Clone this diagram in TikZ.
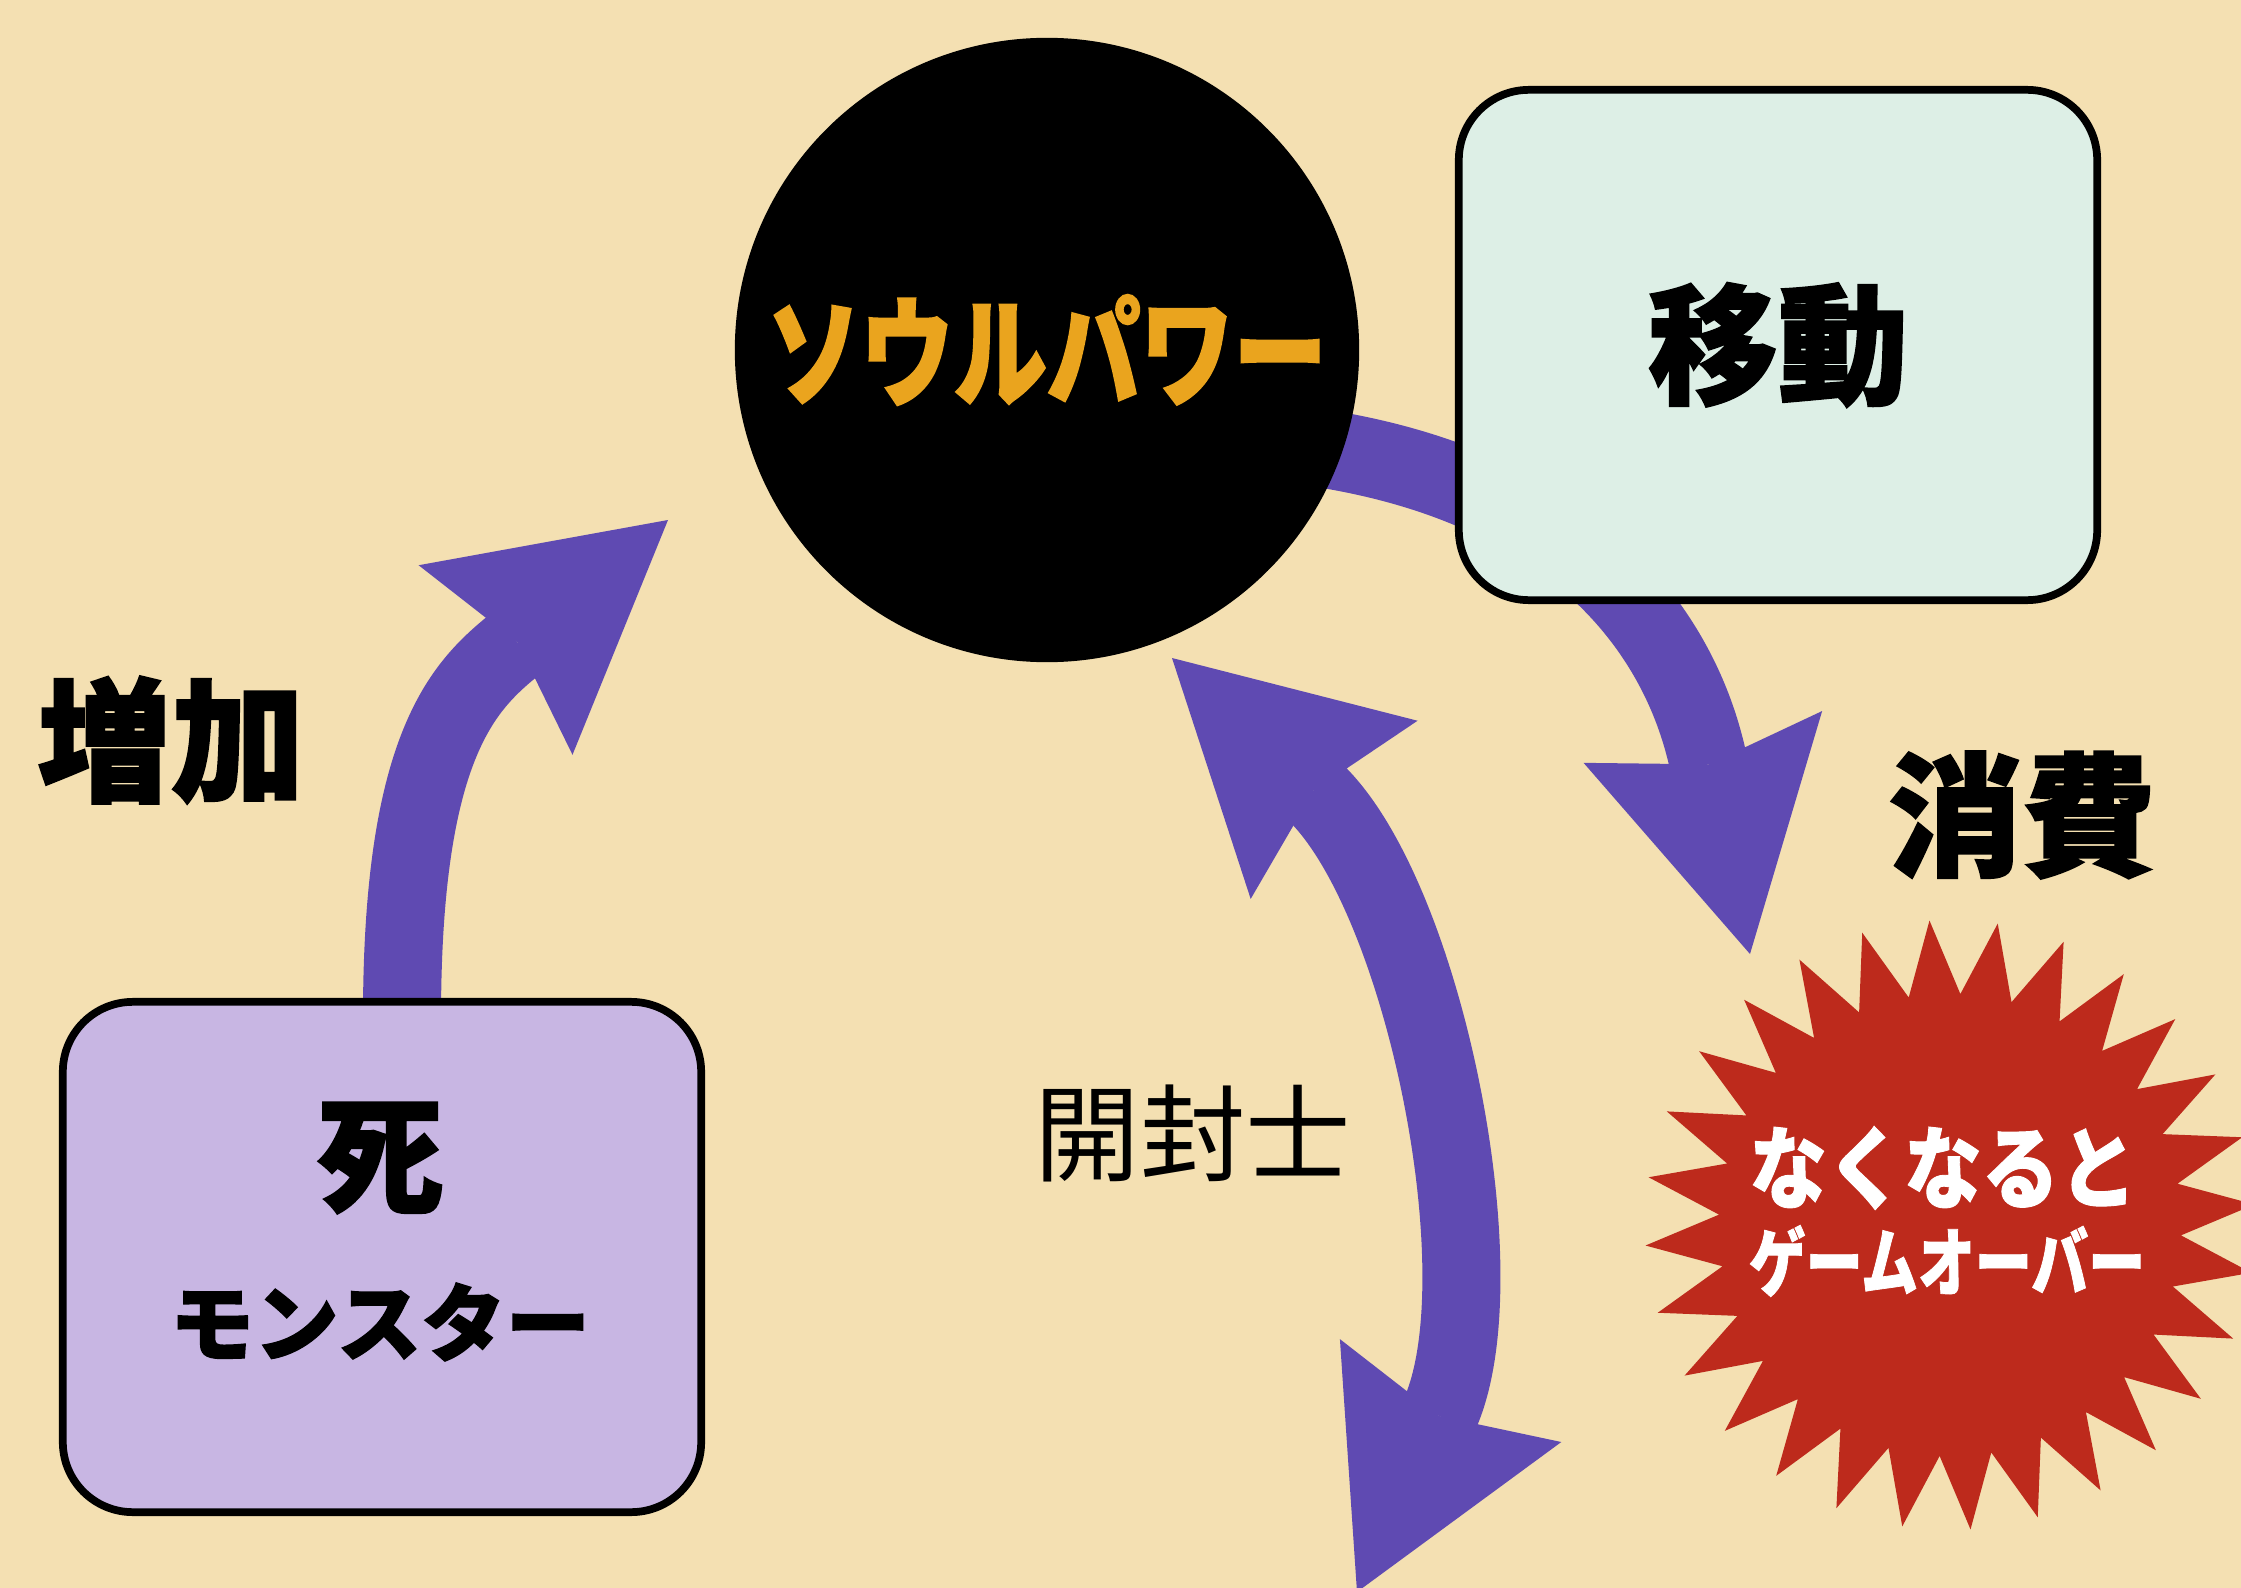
\documentclass[tikz,border=0pt]{standalone}
\usepackage{fontspec}
\usepackage{tikz}
\usetikzlibrary{arrows.meta,shapes.geometric,calc}
\newfontfamily\jp[BoldFeatures={FakeBold=1.6}]{Noto Sans CJK JP}
\newfontfamily\jpnarrow[FakeStretch=0.78,BoldFeatures={FakeBold=1.6}]{Noto Sans CJK JP}
\newfontfamily\jpnarrower[FakeStretch=0.76,BoldFeatures={FakeBold=1}]{Noto Sans CJK JP}
\newfontfamily\jpwide[FakeStretch=0.86,BoldFeatures={FakeBold=1}]{Noto Sans CJK JP}
\definecolor{paper}{HTML}{F4E0B2}
\definecolor{flow}{HTML}{5F4AB2}
\definecolor{lilac}{HTML}{C8B6E3}
\definecolor{mint}{HTML}{DDEFE6}
\definecolor{alarm}{HTML}{BD2A1C}
\definecolor{gold}{HTML}{EAA41E}
\pgfdeclarelayer{back}
\pgfsetlayers{back,main}
\tikzstyle{fat} = [line width=0.78cm,draw=flow,>={Stealth[length=2.22cm,width=2.44cm,inset=0.28cm,line width=0pt]}]
\tikzstyle{box} = [draw,rounded corners=0.7cm,line width=2.2pt,minimum width=6.38cm,minimum height=5.1cm]
\tikzstyle{word} = [inner sep=0pt,font=\jp\bfseries\fontsize{38pt}{40pt}\selectfont]

\begin{document}
\begin{tikzpicture}[x=0.01cm,y=-0.01cm]
        \useasboundingbox (0,0) rectangle (2241,1588);
        \node[circle, fill=black, minimum size=6.24cm, inner sep=0pt, text=gold,
              font=\jpnarrow\bfseries\fontsize{34pt}{36pt}\selectfont] at (1047,350) (soul) {ソウルパワー};
        \node[box, fill=mint, font=\jp\bfseries\fontsize{37pt}{39pt}\selectfont] at (1778,345) (move) {移動};
        \node[box, fill=lilac] at (382,1257) (death) {};
        \node[word, font=\jp\bfseries\fontsize{36pt}{38pt}\selectfont] at (380,1158) (deathword) {死};
        \node[word, font=\jp\bfseries\fontsize{24pt}{26pt}\selectfont] at (380,1322) (monster) {モンスター};
        \node[star, star points=28, star point ratio=1.32, shape border rotate=-9,
              fill=alarm, minimum size=6.1cm, inner sep=0pt] at (1950,1225) (over) {};
        \node[word, text=white, font=\jpwide\bfseries\fontsize{25.6pt}{27pt}\selectfont] at (1943,1168) (lose) {なくなると};
        \node[word, text=white, font=\jpnarrower\bfseries\fontsize{21.3pt}{23pt}\selectfont] at (1947,1261) (gameover) {ゲームオーバー};
        \node[word] at (171,740) (gain) {増加};
        \node[word] at (2022,815) (spend) {消費};
        \node[inner sep=0pt, font=\jp\fontsize{30pt}{32pt}\selectfont] at (1193,1133) (seal) {開封士};

        \coordinate (gaintip) at (668,520);
        \coordinate (spendtip) at (1750,954);
        \coordinate (sealtop) at (1172,658);
        \coordinate (sealbottom) at (1357,1592);

        \begin{pgfonlayer}{back}
        \fill[paper] (0,0) rectangle (2241,1588);
        \draw[fat, ->] ($(death.north)+(20,20)$) .. controls (402,740) and (466,684) .. (gaintip);
        \draw[fat, ->] ($(soul.center)+(203,90)$) .. controls (1640,470) and (1697,710) .. (spendtip);
        \draw[fat, <->] (sealtop) .. controls (1424,894) and (1502,1280) .. (sealbottom);
        \end{pgfonlayer}
    \end{tikzpicture}
\end{document}
